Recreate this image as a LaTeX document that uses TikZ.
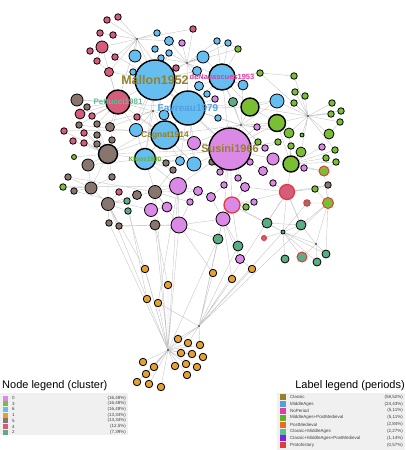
\documentclass[tikz,border=0pt]{standalone}
\usepackage{fontspec}
\setmainfont{Liberation Sans}
\usetikzlibrary{backgrounds}

% cluster colours
\definecolor{clzero}{RGB}{219,137,230}
\definecolor{clone}{RGB}{230,160,50}
\definecolor{cltwo}{RGB}{92,172,132}
\definecolor{clthree}{RGB}{122,190,52}
\definecolor{clfour}{RGB}{214,92,124}
\definecolor{clfive}{RGB}{135,117,110}
\definecolor{clsix}{RGB}{102,190,240}
% period colours
\definecolor{prclassic}{RGB}{150,128,40}
\definecolor{prmiddle}{RGB}{80,160,225}
\definecolor{prnoperiod}{RGB}{225,60,160}
\definecolor{prmidpost}{RGB}{100,175,40}
\definecolor{prpost}{RGB}{230,110,30}
\definecolor{prclassmid}{RGB}{96,190,150}
\definecolor{prall}{RGB}{130,30,230}
\definecolor{prproto}{RGB}{225,60,60}

\tikzset{
  gnode/.style={circle, draw=black, line width=0.8pt, inner sep=0pt, minimum size=6.5pt},
  cl0/.style={gnode, fill=clzero},
  cl1/.style={gnode, fill=clone},
  cl2/.style={gnode, fill=cltwo},
  cl3/.style={gnode, fill=clthree},
  cl4/.style={gnode, fill=clfour},
  cl5/.style={gnode, fill=clfive},
  cl6/.style={gnode, fill=clsix},
  bignode/.style={line width=1.4pt},
  redring/.style={draw=prproto, line width=1pt},
  hub/.style={circle, fill=black!75, inner sep=0pt, minimum size=2.2pt},
  edge/.style={draw=black!22, line width=0.4pt},
  biglabel/.style={font=\bfseries\fontsize{#1}{#1}\selectfont, inner sep=0pt},
  legendtitle/.style={font=\fontsize{11}{11}\selectfont, inner sep=0pt},
  legendbox/.style={fill=black!6, inner sep=0pt, anchor=north west},
  legendtext/.style={font=\fontsize{4.5}{4.5}\selectfont, inner sep=0pt, text=black!75},
  swatch/.style={inner sep=0pt, minimum size=5pt},
}

\begin{document}
\begin{tikzpicture}[x=1pt, y=-1pt]
  \useasboundingbox (0,0) rectangle (405,450);

  %%%%%%%%%%%%%%%%%% hubs
  \node[hub] (hubA) at (137,39) {};
  \node[hub] (hubB) at (187,63) {};
  \node[hub] (hubC) at (153,111) {};
  \node[hub] (hubD) at (241,125) {};
  \node[hub] (hubE) at (308,116) {};
  \node[hub] (hubF) at (316,244) {};
  \node[hub] (hubG) at (199,326) {};
  \node[hub] (hubH) at (168,350) {};

  %%%%%%%%%%%%%%%%%% cluster 4
  \node[cl4] (pkA) at (107,20) {};
  \node[cl4] (pkB) at (118,17) {};
  \node[cl4] (pkC) at (100,33) {};
  \node[cl4] (pkD) at (113,35) {};
  \node[cl4, minimum size=12pt] (pkE) at (102,47) {};
  \node[cl4] (pkF) at (90,51) {};
  \node[cl4] (pkG) at (115,57) {};
  \node[cl4] (pkH) at (97,61) {};
  \node[cl4, minimum size=9pt] (pkI) at (109,72) {};
  \node[cl4] (pkJ) at (193,29) {};
  \node[cl4] (pkK) at (176,68) {};
  \node[cl4] (pkL) at (137,117) {};
  \node[cl4, minimum size=10pt] (pkM) at (80,114) {};
  \node[cl4] (pkN) at (92,116) {};
  \node[cl4] (pkO) at (64,131) {};
  \node[cl4] (pkP) at (84,133) {};
  \node[cl4] (pkQ) at (73,141) {};
  \node[cl4] (pkR) at (84,143) {};
  \node[cl4] (pkS) at (119,192) {};
  \node[cl4, redring, minimum size=5pt] (prA) at (264,238) {};
  \node[cl4, bignode, minimum size=24pt] (pettucci) at (118,102) {};

  %%%%%%%%%%%%%%%%%% cluster 6
  \node[cl6] (buA) at (157,33) {};
  \node[cl6, minimum size=9pt] (buB) at (169,41) {};
  \node[cl6] (buC) at (155,49) {};
  \node[cl6] (buD) at (169,53) {};
  \node[cl6] (buE) at (161,58) {};
  \node[cl6, minimum size=12pt] (buF) at (135,56) {};
  \node[cl6] (buG) at (133,72) {};
  \node[cl6, minimum size=12pt] (buH) at (203,57) {};
  \node[cl6, minimum size=9pt] (buI) at (197,71) {};
  \node[cl6] (buJ) at (217,41) {};
  \node[cl6] (buK) at (228,43) {};
  \node[cl6, minimum size=9pt] (buL) at (199,86) {};
  \node[cl6] (buM) at (207,94) {};
  \node[cl6, minimum size=10pt] (buN) at (243,85) {};
  \node[cl6] (buO) at (218,118) {};
  \node[cl6, minimum size=10pt] (buP) at (164,115) {};
  \node[cl6, minimum size=14pt] (buQ) at (277,101) {};
  \node[cl6, minimum size=13pt] (buR) at (136,130) {};
  \node[cl6, minimum size=9pt] (buS) at (180,161) {};
  \node[cl6, minimum size=14pt] (buT) at (194,164) {};
  \node[cl6, bignode, minimum size=40pt] (mallon) at (155,80) {};
  \node[cl6, bignode, minimum size=34pt] (favreau) at (188,108) {};
  \node[cl6, bignode, minimum size=26pt] (denav) at (222,77) {};
  \node[cl6, bignode, minimum size=28pt] (cagnat) at (165,135) {};
  \node[cl6, bignode, minimum size=21pt] (kloos) at (145,159) {};

  %%%%%%%%%%%%%%%%%% cluster 5
  \node[cl5, minimum size=12pt] (brA) at (77,100) {};
  \node[cl5] (brB) at (87,107) {};
  \node[cl5] (brC) at (79,125) {};
  \node[cl5] (brD) at (97,124) {};
  \node[cl5] (brE) at (97,135) {};
  \node[cl5] (brF) at (97,144) {};
  \node[cl5, minimum size=9pt] (brG) at (110,127) {};
  \node[cl5] (brH) at (112,140) {};
  \node[cl5, bignode, minimum size=19pt] (desc) at (108,154) {};
  \node[cl5, minimum size=12pt] (brI) at (88,165) {};
  \node[cl5] (brJ) at (112,177) {};
  \node[cl5] (brK) at (68,177) {};
  \node[cl5] (brL) at (74,191) {};
  \node[cl5, minimum size=12pt] (brM) at (91,188) {};
  \node[cl5, minimum size=13pt] (brN) at (108,204) {};
  \node[cl5] (brO) at (109,223) {};
  \node[cl5] (brP) at (119,226) {};
  \node[cl5, minimum size=10pt] (brQ) at (155,225) {};
  \node[cl5, minimum size=9pt] (brR) at (137,195) {};
  \node[cl5, minimum size=13pt] (brS) at (155,192) {};
  \node[cl5] (brT) at (166,163) {};
  \node[cl5] (brU) at (173,170) {};
  \node[cl5] (brV) at (212,162) {};
  \node[cl5] (brW) at (328,185) {};
  \node[cl5, redring] (brX) at (307,203) {};

  %%%%%%%%%%%%%%%%%% cluster 0
  \node[cl0, minimum size=13pt] (viA) at (194,143) {};
  \node[cl0] (viB) at (220,172) {};
  \node[cl0] (viC) at (250,162) {};
  \node[cl0, minimum size=9pt] (viD) at (263,171) {};
  \node[cl0] (viE) at (238,178) {};
  \node[cl0] (viF) at (224,185) {};
  \node[cl0, minimum size=9pt] (viG) at (245,187) {};
  \node[cl0, minimum size=17pt] (viH) at (178,186) {};
  \node[cl0, minimum size=9pt] (viI) at (198,191) {};
  \node[cl0, minimum size=9pt] (viJ) at (211,197) {};
  \node[cl0] (viK) at (190,202) {};
  \node[cl0, redring, line width=1.3pt, minimum size=16pt] (viL) at (232,205) {};
  \node[cl0] (viM) at (254,202) {};
  \node[cl0, minimum size=14pt] (viN) at (223,219) {};
  \node[cl0, minimum size=16pt] (viO) at (179,225) {};
  \node[cl0] (viP) at (257,127) {};
  \node[cl0] (viQ) at (265,148) {};
  \node[cl0, minimum size=12pt] (viR) at (273,159) {};
  \node[cl0] (viS) at (304,168) {};
  \node[cl0] (viT) at (273,183) {};
  \node[cl4, redring, line width=1.3pt, minimum size=15pt] (viU) at (287,192) {};
  \node[cl0, minimum size=13pt] (viV) at (151,210) {};
  \node[cl0, minimum size=10pt] (viW) at (167,207) {};
  \node[cl0] (viX) at (182,43) {};
  \node[cl0] (viY) at (215,99) {};
  \node[cl0] (viZ) at (322,147) {};
  \node[cl0, minimum size=9pt] (viAA) at (240,259) {};
  \node[cl0, bignode, minimum size=42pt] (susini) at (230,149) {};

  %%%%%%%%%%%%%%%%%% cluster 3
  \node[cl3] (grA) at (238,49) {};
  \node[cl3] (grB) at (260,73) {};
  \node[cl3] (grC) at (294,76) {};
  \node[cl3] (grD) at (295,92) {};
  \node[cl3] (grE) at (305,96) {};
  \node[cl3] (grF) at (294,103) {};
  \node[cl3, bignode, minimum size=18pt] (grG) at (250,107) {};
  \node[cl3, bignode, minimum size=17pt] (grH) at (277,123) {};
  \node[cl3] (grI) at (332,103) {};
  \node[cl3] (grJ) at (341,111) {};
  \node[cl3] (grK) at (331,114) {};
  \node[cl3] (grL) at (340,122) {};
  \node[cl3, minimum size=10pt] (grM) at (329,134) {};
  \node[cl3, minimum size=10pt] (grN) at (289,133) {};
  \node[cl3, minimum size=4pt] (grO) at (302,135) {};
  \node[cl3] (grP) at (278,142) {};
  \node[cl3] (grQ) at (258,142) {};
  \node[cl3] (grR) at (291,146) {};
  \node[cl3, minimum size=10pt] (grS) at (301,152) {};
  \node[cl3] (grT) at (335,150) {};
  \node[cl3] (grU) at (326,158) {};
  \node[cl3] (grV) at (336,162) {};
  \node[cl3, bignode, minimum size=16pt] (grW) at (291,164) {};
  \node[cl3, redring, minimum size=10pt] (grX) at (324,171) {};
  \node[cl3] (grY) at (315,189) {};
  \node[cl3, redring, minimum size=11pt] (grZ) at (328,203) {};
  \node[cl3] (grAA) at (246,207) {};
  \node[cl3, minimum size=5pt] (grAB) at (74,157) {};
  \node[cl3] (grAC) at (63,187) {};

  %%%%%%%%%%%%%%%%%% cluster 2
  \node[cl2, minimum size=9pt] (tlA) at (233,102) {};
  \node[cl2, minimum size=10pt] (tlB) at (267,223) {};
  \node[cl2, minimum size=4pt] (tlC) at (283,232) {};
  \node[cl2, minimum size=10pt] (tlD) at (301,225) {};
  \node[cl2, minimum size=8pt] (tlE) at (326,254) {};
  \node[cl2, redring, minimum size=10pt] (tlF) at (302,257) {};
  \node[cl2, minimum size=8pt] (tlG) at (285,259) {};
  \node[cl2, minimum size=8pt] (tlH) at (317,262) {};
  \node[cl2, minimum size=10pt] (tlI) at (218,239) {};
  \node[cl2, minimum size=10pt] (tlJ) at (238,246) {};
  \node[cl2] (tlK) at (127,201) {};
  \node[cl2] (tlL) at (128,211) {};

  %%%%%%%%%%%%%%%%%% cluster 1
  \node[cl1, minimum size=7.5pt] (orA) at (213,273) {};
  \node[cl1, minimum size=7.5pt] (orB) at (252,269) {};
  \node[cl1, minimum size=7.5pt] (orC) at (232,279) {};
  \node[cl1, minimum size=7.5pt] (orD) at (168,285) {};
  \node[cl1, minimum size=7.5pt] (orE) at (158,303) {};
  \node[cl1, minimum size=7.5pt] (orF) at (145,269) {};
  \node[cl1, minimum size=7.5pt] (orG) at (147,299) {};
  \node[cl1, minimum size=7.5pt] (orH) at (178,339) {};
  \node[cl1, minimum size=7.5pt] (orI) at (188,343) {};
  \node[cl1, minimum size=7.5pt] (orJ) at (200,345) {};
  \node[cl1, minimum size=7.5pt] (orK) at (181,353) {};
  \node[cl1, minimum size=7.5pt] (orL) at (192,354) {};
  \node[cl1, minimum size=7.5pt] (orM) at (203,357) {};
  \node[cl1, minimum size=7.5pt] (orN) at (143,362) {};
  \node[cl1, minimum size=7.5pt] (orO) at (154,367) {};
  \node[cl1, minimum size=7.5pt] (orP) at (175,366) {};
  \node[cl1, minimum size=7.5pt] (orQ) at (186,364) {};
  \node[cl1, minimum size=7.5pt] (orR) at (197,367) {};
  \node[cl1, minimum size=7.5pt] (orS) at (146,374) {};
  \node[cl1, minimum size=7.5pt] (orT) at (137,382) {};
  \node[cl1, minimum size=7.5pt] (orU) at (149,384) {};
  \node[cl1, minimum size=7.5pt] (orV) at (161,387) {};
  \node[cl1, minimum size=7.5pt] (orW) at (187,375) {};

  %%%%%%%%%%%%%%%%%% labels
  \node[biglabel=12.5, text=prclassic] (mallonlbl) at (mallon) {Mallon1952};
  \node[biglabel=10, text=prmiddle] (favreaulbl) at (favreau) {Favreau1979};
  \node[biglabel=11, text=prclassic] (susinilbl) at (susini) {Susini1966};
  \node[biglabel=8.5, text=prclassic] (cagnatlbl) at (cagnat) {Cagnat1914};
  \node[biglabel=8, text=prclassmid] (pettuccilbl) at (pettucci) {Pettucci1981};
  \node[biglabel=7.5, text=prnoperiod] (denavlbl) at (denav) {deNavascues1953};
  \node[biglabel=6.5, text=prmidpost] (kloolbl) at (kloos) {Kloos1990};

  %%%%%%%%%%%%%%%%%% edges
  \begin{scope}[on background layer]
  \draw[edge] (hubA) -- (pkA) (hubA) -- (pkB) (hubA) -- (pkC) (hubA) -- (pkD) (hubA) -- (pkE)
    (hubA) -- (pkG) (hubA) -- (pkI) (hubA) -- (buA) (hubA) -- (buF) (hubA) -- (mallon)
    (hubA) -- (pettucci) (hubA) -- (pkJ) (hubA) -- (buB) (hubA) -- (favreau);
  \draw[edge] (pkE) -- (pkF) (pkE) -- (pkH) (pkE) -- (pkC) (pkE) -- (pettucci) (pkE) -- (mallon);
  \draw[edge] (pkI) -- (mallon) (pkI) -- (pettucci) (pkI) -- (buG) (pkI) -- (pkH);
  \draw[edge] (hubB) -- (buH) (hubB) -- (buI) (hubB) -- (mallon) (hubB) -- (favreau) (hubB) -- (denav)
    (hubB) -- (buE) (hubB) -- (buD) (hubB) -- (pkK) (hubB) -- (buB) (hubB) -- (grA)
    (hubB) -- (buJ) (hubB) -- (buK) (hubB) -- (viX) (hubB) -- (pkJ) (hubB) -- (buL);
  \draw[edge] (denav) -- (buJ) (denav) -- (buK) (denav) -- (grA) (denav) -- (buN) (denav) -- (buL)
    (denav) -- (buM) (denav) -- (grB) (denav) -- (grG) (denav) -- (susini) (denav) -- (tlA)
    (denav) -- (favreau) (denav) -- (mallon) (denav) -- (buH);
  \draw[edge] (mallon) -- (favreau) (mallon) -- (pettucci) (mallon) -- (cagnat) (mallon) -- (buF)
    (mallon) -- (buG) (mallon) -- (buC) (mallon) -- (buE) (mallon) -- (buD) (mallon) -- (buP)
    (mallon) -- (kloos) (mallon) -- (susini) (mallon) -- (pkK) (mallon) -- (buI) (mallon) -- (buR)
    (mallon) -- (pkL);
  \draw[edge] (favreau) -- (susini) (favreau) -- (cagnat) (favreau) -- (buL) (favreau) -- (buM)
    (favreau) -- (buO) (favreau) -- (buP) (favreau) -- (buS) (favreau) -- (buT) (favreau) -- (kloos)
    (favreau) -- (hubC) (favreau) -- (grG) (favreau) -- (buQ) (favreau) -- (viA) (favreau) -- (viY)
    (favreau) -- (hubD) (favreau) -- (desc);
  \draw[edge] (hubC) -- (mallon) (hubC) -- (cagnat) (hubC) -- (pettucci) (hubC) -- (buP) (hubC) -- (buR)
    (hubC) -- (brG) (hubC) -- (kloos) (hubC) -- (pkL) (hubC) -- (brD);
  \draw[edge] (pettucci) -- (brA) (pettucci) -- (brB) (pettucci) -- (pkM) (pettucci) -- (pkN)
    (pettucci) -- (brD) (pettucci) -- (desc) (pettucci) -- (brG) (pettucci) -- (buR)
    (pettucci) -- (cagnat) (pettucci) -- (brC);
  \draw[edge] (desc) -- (brC) (desc) -- (brD) (desc) -- (brE) (desc) -- (brF) (desc) -- (pkO)
    (desc) -- (pkP) (desc) -- (pkQ) (desc) -- (pkR) (desc) -- (brI) (desc) -- (brM) (desc) -- (brN)
    (desc) -- (kloos) (desc) -- (brH) (desc) -- (grAB) (desc) -- (cagnat) (desc) -- (brJ)
    (desc) -- (susini);
  \draw[edge] (hubD) -- (susini) (hubD) -- (grG) (hubD) -- (grH) (hubD) -- (buQ) (hubD) -- (viP)
    (hubD) -- (cagnat) (hubD) -- (tlA) (hubD) -- (buO) (hubD) -- (viA) (hubD) -- (grN)
    (hubD) -- (grQ) (hubD) -- (denav) (hubD) -- (buN);
  \draw[edge] (hubE) -- (grC) (hubE) -- (grD) (hubE) -- (grE) (hubE) -- (grF) (hubE) -- (grI)
    (hubE) -- (grJ) (hubE) -- (grK) (hubE) -- (grL) (hubE) -- (grM) (hubE) -- (grH) (hubE) -- (buQ)
    (hubE) -- (grN) (hubE) -- (grO) (hubE) -- (grS) (hubE) -- (grG) (hubE) -- (grT) (hubE) -- (grB);
  \draw[edge] (susini) -- (viA) (susini) -- (viB) (susini) -- (viC) (susini) -- (viD) (susini) -- (viE)
    (susini) -- (viF) (susini) -- (viG) (susini) -- (viP) (susini) -- (viQ) (susini) -- (viR)
    (susini) -- (grH) (susini) -- (cagnat) (susini) -- (kloos) (susini) -- (viH) (susini) -- (viL)
    (susini) -- (viN) (susini) -- (buT) (susini) -- (brV) (susini) -- (grP) (susini) -- (grQ);
  \draw[edge] (grW) -- (viR) (grW) -- (viS) (grW) -- (grR) (grW) -- (grS) (grW) -- (grU) (grW) -- (grV)
    (grW) -- (grX) (grW) -- (viZ) (grW) -- (viU) (grW) -- (grN) (grW) -- (grT) (grW) -- (grH);
  \draw[edge] (viU) -- (viT) (viU) -- (grY) (viU) -- (brW) (viU) -- (tlD) (viU) -- (tlB) (viU) -- (viL)
    (viU) -- (viG);
  \draw[edge] (grZ) -- (brX) (grZ) -- (tlE) (grZ) -- (tlD) (grZ) -- (grX) (grZ) -- (brW) (grZ) -- (grY);
  \draw[edge] (tlC) -- (tlB) (tlC) -- (prA) (tlC) -- (tlD) (tlC) -- (tlF) (tlC) -- (tlG) (tlC) -- (tlH)
    (tlC) -- (tlE) (tlC) -- (viL) (tlC) -- (brX) (tlC) -- (hubG) (tlC) -- (hubF) (tlC) -- (viU);
  \draw[edge] (hubF) -- (tlE) (hubF) -- (tlH) (hubF) -- (tlF) (hubF) -- (grZ) (hubF) -- (tlD);
  \draw[edge] (hubG) -- (orA) (hubG) -- (orB) (hubG) -- (orC) (hubG) -- (tlJ) (hubG) -- (tlI)
    (hubG) -- (orE) (hubG) -- (orH) (hubG) -- (orI) (hubG) -- (orJ) (hubG) -- (hubH) (hubG) -- (grZ)
    (hubG) -- (viN) (hubG) -- (viU);
  \draw[edge] (hubH) -- (orH) (hubH) -- (orI) (hubH) -- (orJ) (hubH) -- (orK) (hubH) -- (orL)
    (hubH) -- (orM) (hubH) -- (orN) (hubH) -- (orO) (hubH) -- (orP) (hubH) -- (orQ) (hubH) -- (orR)
    (hubH) -- (orS) (hubH) -- (orT) (hubH) -- (orU) (hubH) -- (orV) (hubH) -- (orW) (hubH) -- (orD)
    (hubH) -- (orE) (hubH) -- (orF) (hubH) -- (orG) (hubH) -- (brQ) (hubH) -- (tlL) (hubH) -- (brN)
    (hubH) -- (viO) (hubH) -- (tlI) (hubH) -- (viH) (hubH) -- (brS) (hubH) -- (brO);
  \draw[edge] (viO) -- (brQ) (viO) -- (viH) (viO) -- (viN) (viO) -- (tlI) (viO) -- (orA) (viO) -- (viK)
    (viO) -- (brS) (viO) -- (brP);
  \draw[edge] (viN) -- (viL) (viN) -- (tlI) (viN) -- (tlJ) (viN) -- (viJ) (viN) -- (orC);
  \draw[edge] (viAA) -- (tlJ) (viAA) -- (viN) (viAA) -- (orB) (viAA) -- (viL);
  \draw[edge] (brS) -- (brR) (brS) -- (brQ) (brS) -- (kloos) (brS) -- (viH) (brS) -- (viV) (brS) -- (viW)
    (brS) -- (viI) (brS) -- (viK) (brS) -- (brU) (brS) -- (brK);
  \draw[edge] (kloos) -- (cagnat) (kloos) -- (buS) (kloos) -- (buT) (kloos) -- (brT) (kloos) -- (brU)
    (kloos) -- (viH) (kloos) -- (brI) (kloos) -- (buR);
  \draw[edge] (cagnat) -- (buR) (cagnat) -- (viA) (cagnat) -- (buT) (cagnat) -- (buS) (cagnat) -- (pkL)
    (cagnat) -- (brC);
  \draw[edge] (brM) -- (brI) (brM) -- (brK) (brM) -- (grAC) (brM) -- (brL) (brM) -- (brN) (brM) -- (brJ);
  \draw[edge] (brN) -- (tlK) (brN) -- (tlL) (brN) -- (brO) (brN) -- (brP) (brN) -- (pkS) (brN) -- (brR)
    (brN) -- (orF);
  \draw[edge] (brA) -- (favreau) (pkO) -- (buR) (grAC) -- (viH) (brL) -- (viV) (brP) -- (viO)
    (orD) -- (brQ) (orG) -- (tlK) (orE) -- (viH);
  \draw[edge] (grG) -- (grH) (grG) -- (buQ) (grH) -- (buQ) (grB) -- (grC) (grA) -- (buK) (viP) -- (grH)
    (viQ) -- (grP) (grM) -- (grL) (grX) -- (grV) (grY) -- (brW) (viS) -- (grX) (viT) -- (viR)
    (viD) -- (viR) (viG) -- (viL) (viM) -- (viL) (grAA) -- (viL) (viF) -- (viJ) (viE) -- (viG)
    (viI) -- (viJ) (viK) -- (viI) (viW) -- (viV) (viH) -- (viI) (viA) -- (buT) (buS) -- (buT)
    (brV) -- (viB) (tlB) -- (viL) (tlB) -- (tlD) (tlD) -- (viU);
  \end{scope}

  %%%%%%%%%%%%%%%%%% node legend
  \node[legendtitle, anchor=west] (nodetitle) at (2,386) {Node legend (cluster)};
  \node[legendbox, minimum width=128pt, minimum height=42pt] (nodebox) at (0,393) {};
  \foreach \i/\col/\lbl/\pct in {0/clzero/0/{(16,48\%)}, 1/clthree/3/{(16,48\%)}, 2/clsix/6/{(16,48\%)},
      3/clone/1/{(13,34\%)}, 4/clfive/5/{(13,34\%)}, 5/clfour/4/{(12,5\%)}, 6/cltwo/2/{(7,39\%)}} {
    \node[swatch, fill=\col] (nsw\i) at (5,398+5.7*\i) {};
    \node[legendtext, anchor=west] (nlb\i) at (12,398+5.7*\i) {\lbl};
    \node[legendtext, anchor=east] (npc\i) at (126,398+5.7*\i) {\pct};
  }

  %%%%%%%%%%%%%%%%%% label legend
  \node[legendtitle, anchor=east] (labeltitle) at (405,386) {Label legend (periods)};
  \node[legendbox, minimum width=128pt, minimum height=57pt] (labelbox) at (277,393) {};
  \foreach \i/\col/\lbl/\pct in {0/prclassic/Classic/{(58,52\%)}, 1/prmiddle/MiddleAges/{(24,43\%)},
      2/prnoperiod/NoPeriod/{(5,11\%)}, 3/prmidpost/MiddleAges+PostMedieval/{(5,11\%)},
      4/prpost/PostMedieval/{(2,84\%)}, 5/prclassmid/Classic+MiddleAges/{(2,27\%)},
      6/prall/Classic+MiddleAges+PostMedieval/{(1,14\%)}, 7/prproto/Protohistory/{(0,57\%)}} {
    \node[swatch, minimum size=6pt, fill=\col] (lsw\i) at (283,397+6.9*\i) {};
    \node[legendtext, anchor=west] (llb\i) at (290,397+6.9*\i) {\lbl};
    \node[legendtext, anchor=east] (lpc\i) at (403,397+6.9*\i) {\pct};
  }
\end{tikzpicture}
\end{document}
